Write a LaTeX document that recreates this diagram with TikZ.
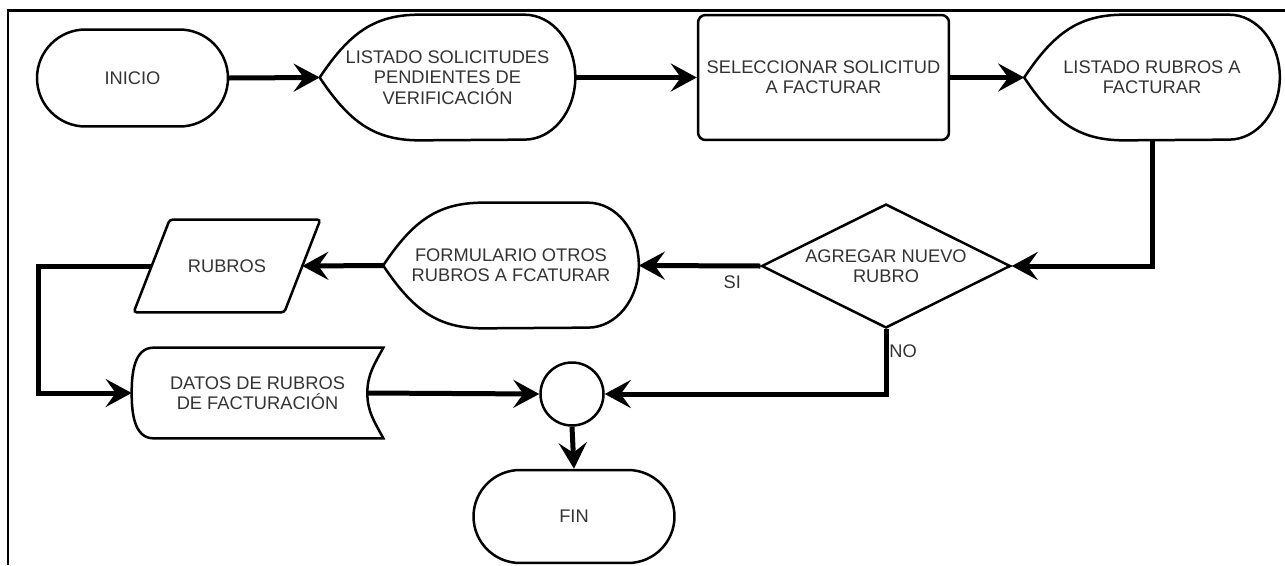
\documentclass[tikz,border=0pt]{standalone}
\usepackage{fontspec}
\setmainfont{Liberation Sans}
\usetikzlibrary{arrows.meta,calc,shapes.geometric,shapes.misc}

\begin{document}
\begin{tikzpicture}[x=0.02cm, y=0.02cm,
    shp/.style={draw, line width=0.05cm},
    txt/.style={align=center, text=black!80, font=\fontsize{10.4}{11.6}\selectfont, inner sep=0pt},
    con/.style={line width=0.1cm, -{Stealth[length=0.52cm, width=0.56cm, inset=0.2cm]}},
    lbl/.style={text=black!80, font=\fontsize{10.4}{11.6}\selectfont, inner sep=0.5pt}]
    \useasboundingbox (0,0) rectangle (1285,-565);
    \draw[line width=0.06cm] (8,-565) -- (8,-10) -- (1285,-10);

    \node[shp, txt, rounded rectangle, minimum width=3.82cm, minimum height=1.94cm] (inicio) at (132.5,-78) {INICIO};
    \node[txt, minimum width=5.1cm, minimum height=2.5cm] (disp1) at (447.5,-77.5) {LISTADO SOLICITUDES\\PENDIENTES DE\\VERIFICACIÓN};
    \node[shp, txt, rounded corners=0.15cm, minimum width=5.02cm, minimum height=2.5cm] (selec) at (823.5,-77.5) {SELECCIONAR SOLICITUD\\A FACTURAR};
    \node[txt, minimum width=5.1cm, minimum height=2.5cm] (disp2) at (1152,-77.5) {LISTADO RUBROS A\\FACTURAR};
    \node[shp, txt, diamond, aspect=2, minimum width=4.98cm, minimum height=2.48cm] (agregar) at (886,-266) {AGREGAR NUEVO\\RUBRO};
    \node[txt, minimum width=5.1cm, minimum height=2.5cm] (disp3) at (511,-265.5) {FORMULARIO OTROS\\RUBROS A FCATURAR};
    \node[txt, minimum width=3cm, minimum height=1.84cm] (rubros) at (227,-266) {RUBROS};
    \node[txt, minimum width=5.02cm, minimum height=1.8cm] (datos) at (257.5,-393) {DATOS DE RUBROS\\DE FACTURACIÓN};
    \node[shp, circle, minimum size=1.26cm, inner sep=0pt] (junc) at (572,-394) {};
    \node[shp, txt, rounded rectangle, minimum width=4.02cm, minimum height=1.86cm] (fin) at (574,-516.5) {FIN};

    \foreach \n in {disp1,disp2,disp3}
      \draw[shp] (\n.west) .. controls +(30,45) and +(-45,0) .. ($(\n.north west)+(100,0)$) -- ($(\n.north east)+(-51,0)$)
        arc[start angle=90, end angle=-90, x radius=1.02cm, y radius=1.25cm] -- ($(\n.south west)+(100,0)$)
        .. controls +(-45,0) and +(30,-45) .. (\n.west) -- cycle;
    \draw[shp, rounded corners=0.06cm] ($(rubros.north west)+(18,0)$) -- ($(rubros.north east)+(18,0)$)
      -- ($(rubros.south east)+(-18,0)$) -- ($(rubros.south west)+(-18,0)$) -- cycle;
    \coordinate (datos-out) at ($(datos.east)+(-16,0)$);
    \draw[shp] ($(datos.north west)+(22,0)$) -- (datos.north east) to[out=-118,in=90] (datos-out)
      to[out=-90,in=118] (datos.south east) -- ($(datos.south west)+(22,0)$) to[out=180,in=-90] (datos.west)
      to[out=90,in=180] ($(datos.north west)+(22,0)$) -- cycle;
    \coordinate (lft) at (38,-266);

    \draw[con] (inicio.east) -- (disp1.west);
    \draw[con] (disp1.east) -- (selec.west);
    \draw[con] (selec.east) -- (disp2.west);
    \draw[con] (disp2.south) |- (agregar.east);
    \draw[con] (agregar.west) -- node[lbl, pos=0.23, yshift=-0.32cm] {SI} (disp3.east);
    \draw[con] (agregar.south) |- node[lbl, pos=0.167, anchor=west, fill=white] {NO} (junc.east);
    \draw[con] (disp3.west) -- (rubros.east);
    \draw[con] (rubros.west) -- (lft) |- (datos.west);
    \draw[con] (datos-out) -- (junc.west);
    \draw[con] (junc.south) -- (fin.north);
  \end{tikzpicture}
\end{document}
